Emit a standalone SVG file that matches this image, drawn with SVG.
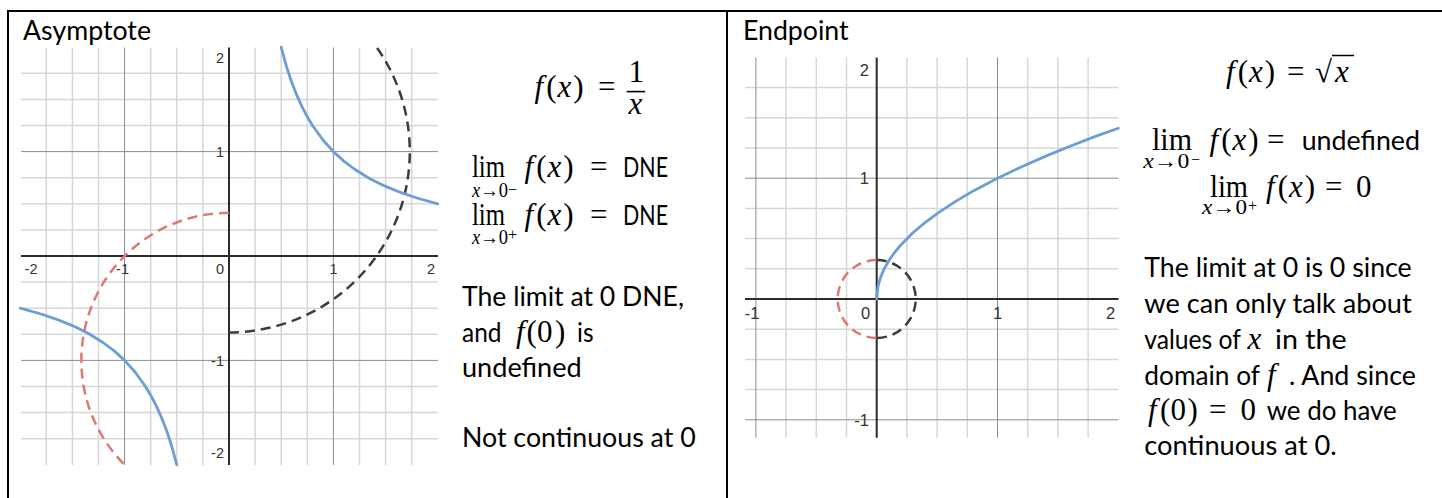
<svg xmlns="http://www.w3.org/2000/svg" width="1442" height="498" viewBox="0 0 1442 498">
<style>
.t{font-family:Lato,"Liberation Sans",sans-serif;font-size:26px;fill:#000}
.m{font-family:"Liberation Serif","DejaVu Serif",serif;font-size:31px;fill:#000}
.i{font-style:italic}
.sub{font-size:20px}
.sup{font-size:16px}
.ax{font-family:"Liberation Sans",Arial,sans-serif;font-size:14.5px;fill:#333}
.ax2{font-family:"Liberation Sans",Arial,sans-serif;font-size:16.5px;fill:#333}
.minor{stroke:#d7d7d7;stroke-width:1.5;fill:none}
.major{stroke:#8c8c8c;stroke-width:1;fill:none}
.axis{stroke:#2b2b2b;stroke-width:2;fill:none}
.blue{stroke:#6b9fd3;stroke-width:2.8;fill:none;stroke-linejoin:round;stroke-linecap:round}
.red{stroke:#dc7a72;stroke-width:2.5;fill:none;stroke-dasharray:10 6}
.dark{stroke:#3c3c3c;stroke-width:2.5;fill:none;stroke-dasharray:10 6}
.border{stroke:#000;stroke-width:2;fill:none}
</style>

<g id="table">
<line class="border" x1="7" y1="11" x2="1442" y2="11"/>
<line class="border" x1="8" y1="10" x2="8" y2="498"/>
<line class="border" x1="727" y1="10" x2="727" y2="498"/>
</g>

<g id="panel-asymptote">
<text class="t" x="23" y="40" textLength="128" lengthAdjust="spacingAndGlyphs">Asymptote</text>
<g id="graph-left">
<path class="minor" d="M46.3 47.5V465M72.4 47.5V465M98.5 47.5V465M150.7 47.5V465M176.8 47.5V465M202.9 47.5V465M255.1 47.5V465M281.2 47.5V465M307.3 47.5V465M359.5 47.5V465M385.6 47.5V465M411.7 47.5V465M21 73.3H438M21 99.4H438M21 125.5H438M21 177.7H438M21 203.8H438M21 229.9H438M21 282.1H438M21 308.2H438M21 334.3H438M21 386.5H438M21 412.6H438M21 438.7H438"/>
<path class="major" d="M124.6 47.5V465M333.4 47.5V465M21 151.6H438M21 360.4H438"/>
<path class="axis" d="M229 47.5V465M21 256H438"/>
<text class="ax" x="224" y="63" text-anchor="end">2</text>
<text class="ax" x="224" y="156.8" text-anchor="end">1</text>
<text class="ax" x="224" y="365.8" text-anchor="end">-1</text>
<text class="ax" x="224" y="458" text-anchor="end">-2</text>
<text class="ax" x="31" y="274" text-anchor="middle">-2</text>
<text class="ax" x="122.5" y="274" text-anchor="middle">-1</text>
<text class="ax" x="220" y="274" text-anchor="middle">0</text>
<text class="ax" x="333.5" y="274" text-anchor="middle">1</text>
<text class="ax" x="431" y="274" text-anchor="middle">2</text>
<path class="red" d="M229 212.8A147.6 147.6 0 0 0 124.6 464.8"/>
<path class="dark" d="M229 332.4A180.8 180.8 0 0 0 376.6 47.2"/>
<polyline class="blue" points="281.2,47.2 286.4,66.2 291.6,82 296.9,95.4 302.1,106.9 307.3,116.8 312.5,125.5 323,140 333.4,151.6 343.8,161.1 354.3,169 369.9,178.7 385.6,186.4 401.3,192.7 416.9,198 437.8,203.8"/>
<polyline class="blue" points="176.8,464.8 171.6,445.8 166.4,430 161.1,416.6 155.9,405.1 150.7,395.2 145.5,386.5 135,372 124.6,360.4 114.2,350.9 103.7,343 88.1,333.3 72.4,325.6 56.7,319.3 41.1,314 20.2,308.2"/>
</g>
<g id="formula-left">
<text class="m" x="534.5" y="97"><tspan class="i">f</tspan><tspan dx="3">(</tspan><tspan class="i" dx="1">x</tspan><tspan dx="2">)</tspan><tspan dx="14.5">=</tspan></text>
<text class="m" x="628.5" y="82">1</text>
<rect x="626.7" y="90.8" width="18.5" height="1.6" fill="#000"/>
<text class="m i" x="628.5" y="113.5">x</text>
</g>
<g id="limits-left">
<text class="m" x="472" y="177" textLength="33" lengthAdjust="spacingAndGlyphs">lim</text>
<text class="m" x="524.5" y="177"><tspan class="i">f</tspan><tspan dx="3">(</tspan><tspan class="i" dx="1">x</tspan><tspan dx="2">)</tspan><tspan dx="16.5">=</tspan></text>
<text class="t" x="623" y="177" textLength="45" lengthAdjust="spacingAndGlyphs">DNE</text>
<text class="m sub" x="472" y="197" textLength="36" lengthAdjust="spacingAndGlyphs"><tspan class="i">x</tspan>→0</text>
<text class="m sup" x="508" y="195">−</text>
<text class="m" x="472" y="225" textLength="33" lengthAdjust="spacingAndGlyphs">lim</text>
<text class="m" x="524.5" y="225"><tspan class="i">f</tspan><tspan dx="3">(</tspan><tspan class="i" dx="1">x</tspan><tspan dx="2">)</tspan><tspan dx="16.5">=</tspan></text>
<text class="t" x="623" y="225" textLength="45" lengthAdjust="spacingAndGlyphs">DNE</text>
<text class="m sub" x="472" y="243.5" textLength="36" lengthAdjust="spacingAndGlyphs"><tspan class="i">x</tspan>→0</text>
<text class="m sup" x="508" y="240">+</text>
</g>
<g id="note-left">
<text class="t" x="462" y="306" textLength="222" lengthAdjust="spacingAndGlyphs">The limit at 0 DNE,</text>
<text class="t" x="462" y="341.5" textLength="39.5" lengthAdjust="spacingAndGlyphs">and</text>
<text class="m" x="516" y="341.5"><tspan class="i">f</tspan><tspan dx="1.9">(</tspan><tspan dx="0.2">0</tspan><tspan dx="2.5">)</tspan></text>
<text class="t" x="577" y="341.5" textLength="16.5" lengthAdjust="spacingAndGlyphs">is</text>
<text class="t" x="462" y="377" textLength="119.7" lengthAdjust="spacingAndGlyphs">undefined</text>
<text class="t" x="462" y="447" textLength="233.7" lengthAdjust="spacingAndGlyphs">Not continuous at 0</text>
</g>
</g>

<g id="panel-endpoint">
<text class="t" x="743" y="40" textLength="105.6" lengthAdjust="spacingAndGlyphs">Endpoint</text>
<g id="graph-right">
<path class="minor" d="M786.1 57.4V437.7M816.3 57.4V437.7M846.5 57.4V437.7M906.9 57.4V437.7M937.1 57.4V437.7M967.3 57.4V437.7M1027.7 57.4V437.7M1057.9 57.4V437.7M1088.1 57.4V437.7M745 87.6H1118.5M745 117.8H1118.5M745 148H1118.5M745 208.4H1118.5M745 238.6H1118.5M745 268.8H1118.5M745 329.2H1118.5M745 359.4H1118.5M745 389.6H1118.5"/>
<path class="major" d="M755.9 57.4V437.7M997.5 57.4V437.7M745 178.2H1118.5M745 419.8H1118.5"/>
<path class="axis" d="M876.7 57.4V437.7M745 299H1118.5"/>
<text class="ax2" x="869" y="75.5" text-anchor="end">2</text>
<text class="ax2" x="869" y="184" text-anchor="end">1</text>
<text class="ax2" x="869" y="426" text-anchor="end">-1</text>
<text class="ax2" x="752" y="318.5" text-anchor="middle">-1</text>
<text class="ax2" x="865.5" y="318.5" text-anchor="middle">0</text>
<text class="ax2" x="997.5" y="318.5" text-anchor="middle">1</text>
<text class="ax2" x="1110.5" y="318.5" text-anchor="middle">2</text>
<path class="red" d="M876.7 260A39 39 0 0 0 876.7 338"/>
<path class="dark" d="M876.7 260A39 39 0 0 1 876.7 338"/>
<polyline class="blue" points="876.7,299 877.9,286.9 880.3,278.1 883.9,269.4 888.8,260.8 894.8,252.2 900.9,245 912.9,232.8 925,222.6 937.1,213.6 955.2,201.6 973.3,190.9 997.5,178.2 1021.7,166.7 1045.8,156.1 1070,146.2 1094.1,136.9 1118.3,128.2"/>
</g>
<g id="formula-right">
<text class="m" x="1226" y="82"><tspan class="i">f</tspan><tspan dx="3">(</tspan><tspan class="i" dx="1">x</tspan><tspan dx="2">)</tspan><tspan dx="12">=</tspan></text>
<text class="m" x="1315" y="82">√</text>
<text class="m i" x="1335" y="82">x</text>
<line x1="1332" y1="55.5" x2="1354" y2="55.5" stroke="#000" stroke-width="1.5"/>
</g>
<g id="limits-right">
<text class="m" x="1152" y="150" textLength="40" lengthAdjust="spacingAndGlyphs">lim</text>
<text class="m" x="1209.5" y="150"><tspan class="i">f</tspan><tspan dx="3">(</tspan><tspan class="i" dx="1">x</tspan><tspan dx="2">)</tspan><tspan dx="8.5">=</tspan></text>
<text class="t" x="1301.7" y="150" textLength="118.3" lengthAdjust="spacingAndGlyphs">undefined</text>
<text class="m sub" x="1143.3" y="167.5" textLength="46" lengthAdjust="spacingAndGlyphs"><tspan class="i">x</tspan>→0</text>
<text class="m sup" x="1191" y="165">−</text>
<text class="m" x="1210" y="197" textLength="38" lengthAdjust="spacingAndGlyphs">lim</text>
<text class="m" x="1266" y="197"><tspan class="i">f</tspan><tspan dx="3">(</tspan><tspan class="i" dx="1">x</tspan><tspan dx="2">)</tspan><tspan dx="10">=</tspan><tspan dx="13.5">0</tspan></text>
<text class="m sub" x="1202" y="214" textLength="45" lengthAdjust="spacingAndGlyphs"><tspan class="i">x</tspan>→0</text>
<text class="m sup" x="1248" y="211">+</text>
</g>
<g id="note-right">
<text class="t" x="1144.3" y="276.7" textLength="267.4" lengthAdjust="spacingAndGlyphs">The limit at 0 is 0 since</text>
<text class="t" x="1144.3" y="313.3" textLength="267.4" lengthAdjust="spacingAndGlyphs">we can only talk about</text>
<text class="t" x="1144.3" y="349" textLength="96.7" lengthAdjust="spacingAndGlyphs">values of</text>
<text class="m i" x="1247.5" y="349">x</text>
<text class="t" x="1275" y="349" textLength="71.7" lengthAdjust="spacingAndGlyphs">in the</text>
<text class="t" x="1144.3" y="385" textLength="115.7" lengthAdjust="spacingAndGlyphs">domain of</text>
<text class="m i" x="1267" y="385">f</text>
<text class="t" x="1289" y="385" textLength="127" lengthAdjust="spacingAndGlyphs">. And since</text>
<text class="m" x="1148" y="420"><tspan class="i">f</tspan><tspan dx="3.4">(</tspan><tspan dx="0.2">0</tspan><tspan dx="1.5">)</tspan><tspan dx="11.2">=</tspan><tspan dx="14">0</tspan></text>
<text class="t" x="1266.7" y="420" textLength="130" lengthAdjust="spacingAndGlyphs">we do have</text>
<text class="t" x="1144.3" y="455" textLength="192.4" lengthAdjust="spacingAndGlyphs">continuous at 0.</text>
</g>
</g>
</svg>
